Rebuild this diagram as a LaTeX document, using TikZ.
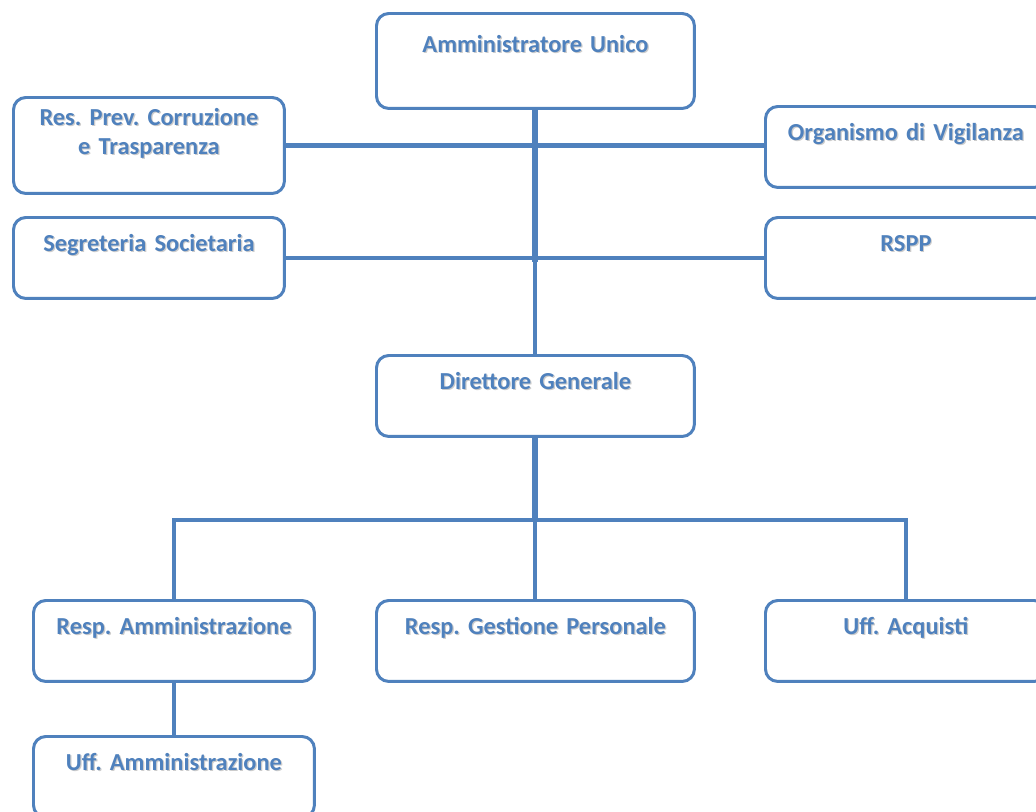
\documentclass[tikz,border=0pt]{standalone}
\usepackage{fontspec}
\setmainfont{Carlito}
\usepackage{xcolor}
\usepackage{tikz}

\definecolor{orgblue}{HTML}{4F81BD}
\definecolor{txtshade}{gray}{0.80}
\newcommand{\shd}[1]{\leavevmode\rlap{\raisebox{-0.8pt}[0pt][0pt]{\kern0.7pt\textcolor{txtshade}{#1}}}#1}
\frenchspacing

\begin{document}
\begin{tikzpicture}[x=0.02cm,y=-0.02cm,thin]

                \tikzset{unit/.style={draw=orgblue, fill=white, line width=1.7pt, rounded corners=7pt,
                    anchor=north west, inner xsep=0pt, inner ysep=0pt, align=center,
                    font=\fontsize{13.9}{16.5}\selectfont\bfseries, text=orgblue,
                    text height=0.68cm, text depth=0.94cm},
                  link/.style={draw=orgblue, line width=2.3pt},
                  trunk/.style={draw=orgblue, line width=3.4pt}}

                \path[use as bounding box] (0,0) rectangle (1036,812);
                \clip (0,0) rectangle (1036,812);

                \node[unit, text width=6.36cm, text height=0.78cm, text depth=1.12cm] (AU) at (375,12) {\shd{Amministratore Unico}};
                \node[unit, text width=5.42cm, text height=0.56cm, text depth=1.36cm] (RPC) at (12,96) {\shd{Res. Prev. Corruzione}\\\shd{e Trasparenza}};
                \node[unit, text width=5.62cm] (ODV) at (764,105) {\shd{Organismo di Vigilanza}};
                \node[unit, text width=5.42cm] (SS) at (12,216) {\shd{Segreteria Societaria}};
                \node[unit, text width=5.62cm] (RSPP) at (764,216) {\shd{RSPP}};
                \node[unit, text width=6.36cm] (DG) at (375,354) {\shd{Direttore Generale}};
                \node[unit, text width=5.62cm] (RA) at (32,599) {\shd{Resp. Amministrazione}};
                \node[unit, text width=6.36cm] (RGP) at (375,599) {\shd{Resp. Gestione Personale}};
                \node[unit, text width=5.62cm] (UAC) at (764,599) {\shd{Uff. Acquisti}};
                \node[unit, text width=5.62cm] (UAM) at (32,735) {\shd{Uff. Amministrazione}};
                \path (DG.south) ++(0,82) coordinate (B);

                \path[link] (RPC.east) -- (RPC.east -| ODV.west);
                \path[link] (SS.east) -- (RSPP.west);
                \path[link] (AU.south) -- (DG.north);
                \path[trunk] (AU.south) -- ([yshift=-0.08cm]AU.south |- SS.east);
                \path[trunk] (DG.south) -- (B);
                \path[link] (RA.north) |- (B) -| (UAC.north);
                \path[link] (B) -- (B |- RGP.north);
                \path[link] (RA.south) -- (UAM.north);
            \end{tikzpicture}
\end{document}
